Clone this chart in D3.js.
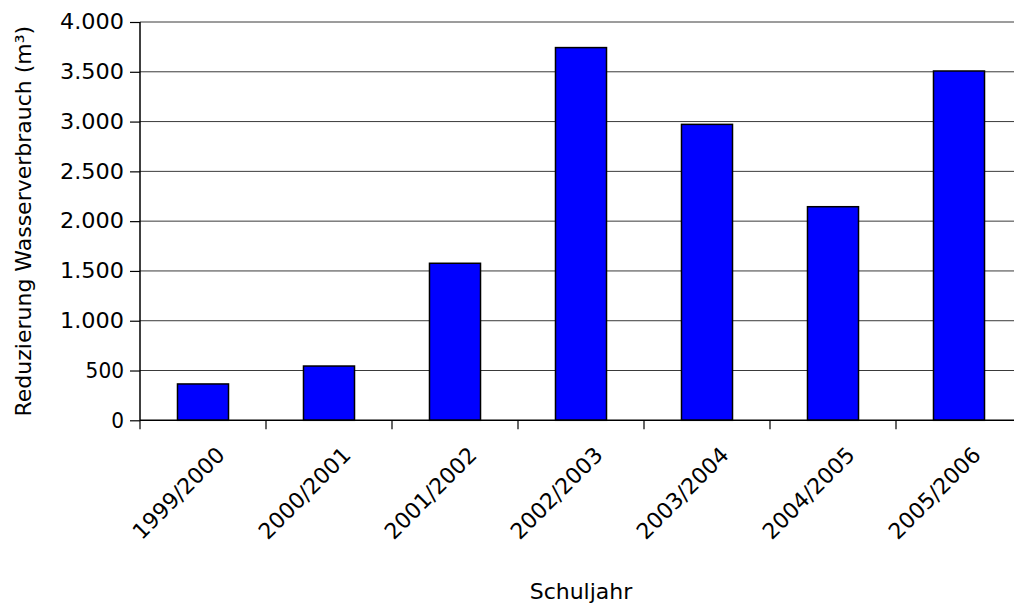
<!DOCTYPE html>
<html>
<head>
<meta charset="utf-8">
<script src="https://cdn.jsdelivr.net/npm/d3@7"></script>
<style>
  html, body { margin: 0; padding: 0; background: #fff; }
  svg { display: block; }
  text { font-family: "DejaVu Sans", sans-serif; fill: #000; }
</style>
</head>
<body>
<svg id="chart" width="1014" height="606"></svg>
<script>
// Reduction of water consumption per school year (m³)
const schoolYears = ["1999/2000", "2000/2001", "2001/2002", "2002/2003", "2003/2004", "2004/2005", "2005/2006"];
const reduction = [365, 545, 1577, 3743, 2972, 2145, 3508];
const yTicks = [0, 500, 1000, 1500, 2000, 2500, 3000, 3500, 4000];

const svg = d3.select("#chart");
const plotLeft = 140, plotRight = 1022, plotTop = 22, plotBottom = 420.3;

const x = d3.scaleBand().domain(schoolYears).range([plotLeft, plotRight]).paddingInner(0.595).paddingOuter(0.2975);
const xCat = d3.scaleBand().domain(schoolYears).range([plotLeft, plotRight]);
const y = d3.scaleLinear().domain([0, 4000]).range([plotBottom, plotTop]);

const fmt = d3.formatLocale({ decimal: ",", thousands: ".", grouping: [3], currency: ["", "€"] }).format(",d");

// horizontal gridlines
svg.append("g")
  .selectAll("line")
  .data(yTicks.filter(d => d > 0))
  .join("line")
  .attr("x1", plotLeft).attr("x2", plotRight)
  .attr("y1", d => y(d)).attr("y2", d => y(d))
  .attr("stroke", "#3a3a3a").attr("stroke-width", 1);

// bars
svg.append("g")
  .selectAll("rect")
  .data(schoolYears)
  .join("rect")
  .attr("x", d => x(d))
  .attr("width", x.bandwidth())
  .attr("y", (d, i) => y(reduction[i]))
  .attr("height", (d, i) => y(0) - y(reduction[i]))
  .attr("fill", "#0000ff")
  .attr("stroke", "#000")
  .attr("stroke-width", 1.5);

// y axis
const yAxis = svg.append("g")
  .attr("transform", `translate(${plotLeft},0)`)
  .call(d3.axisLeft(y).tickValues(yTicks).tickFormat(fmt).tickSize(10).tickPadding(6));
yAxis.select(".domain").attr("stroke", "#000").attr("stroke-width", 1.5).attr("d", `M0,${plotTop}V${plotBottom}`);
yAxis.selectAll(".tick line").attr("stroke", "#000").attr("stroke-width", 1.2);
yAxis.selectAll("text")
  .style("font-size", "21px")
  .style("font-family", "DejaVu Sans, sans-serif")
  .attr("textLength", d => String(fmt(d)).length * 12.8)
  .attr("lengthAdjust", "spacingAndGlyphs");

// x axis with tick marks between categories
const boundaries = schoolYears.map(d => xCat(d)).concat([plotRight]);
const xg = svg.append("g");
xg.append("line")
  .attr("x1", plotLeft).attr("x2", plotRight)
  .attr("y1", plotBottom).attr("y2", plotBottom)
  .attr("stroke", "#000").attr("stroke-width", 1.5);
xg.selectAll("line.tk")
  .data(boundaries)
  .join("line")
  .attr("class", "tk")
  .attr("x1", d => d).attr("x2", d => d)
  .attr("y1", plotBottom).attr("y2", plotBottom + 9)
  .attr("stroke", "#000").attr("stroke-width", 1.2);

xg.selectAll("text.cat")
  .data(schoolYears)
  .join("text")
  .attr("class", "cat")
  .attr("transform", d => `translate(${xCat(d) + xCat.bandwidth() / 2 + 12},${plotBottom + 25}) rotate(-45)`)
  .attr("text-anchor", "end")
  .attr("dy", "0.71em")
  .style("font-size", "22px")
  .text(d => d);

// axis titles
svg.append("text")
  .attr("transform", `translate(31,${(plotTop + plotBottom) / 2}) rotate(-90)`)
  .attr("text-anchor", "middle")
  .style("font-size", "22px")
  .text("Reduzierung Wasserverbrauch (m³)");

svg.append("text")
  .attr("x", (plotLeft + plotRight) / 2)
  .attr("y", 599)
  .attr("text-anchor", "middle")
  .style("font-size", "22px")
  .text("Schuljahr");
</script>
</body>
</html>
